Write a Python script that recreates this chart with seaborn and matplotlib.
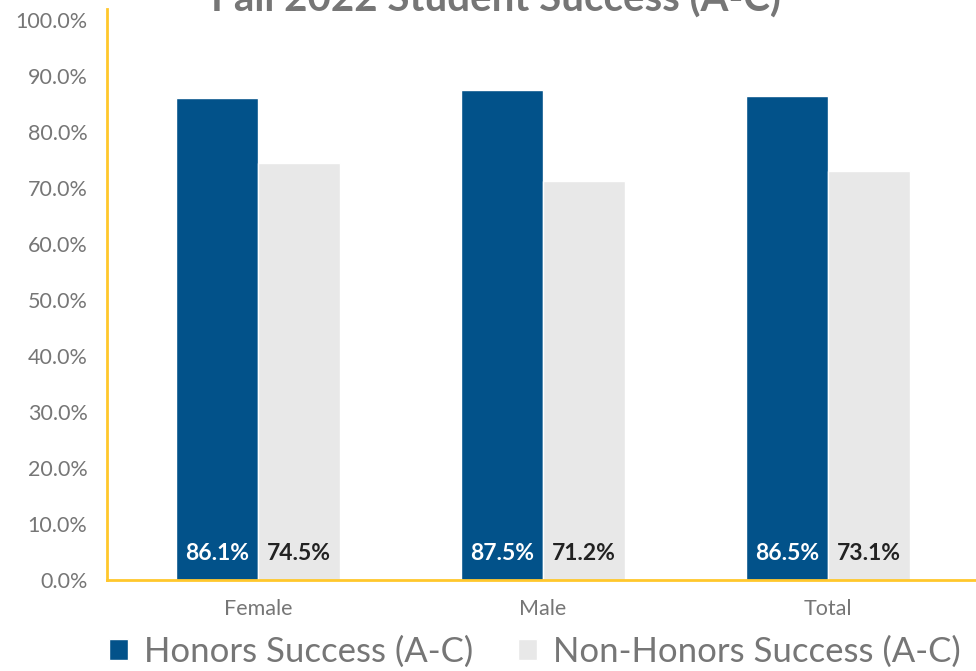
import pandas as pd
import numpy as np
from matplotlib import pyplot as plt
from matplotlib.patches import Patch
import seaborn as sns


categories = ['Female', 'Male', 'Total']
honors = [86.1, 87.5, 86.5]
non_honors = [74.5, 71.2, 73.1]
series_names = ['Honors Success (A-C)', 'Non-Honors Success (A-C)']
title = 'Fall 2022 Student Success (A-C)'

blue = '#02528A'
light = '#E8E8E8'
gold = '#FFC72C'
gray = '#767676'


def build_frame():
    """把两组数据整理成长表"""
    rows = []
    for cat, h, n in zip(categories, honors, non_honors):
        rows.append({'group': cat, 'series': series_names[0], 'value': h})
        rows.append({'group': cat, 'series': series_names[1], 'value': n})
    return pd.DataFrame(rows)


def draw_chart():
    sns.set_theme(style='white')
    plt.rcParams['font.family'] = ['Lato', 'DejaVu Sans']

    df = build_frame()
    fig = plt.figure(figsize=(9.76, 6.71), dpi=100)
    ax = fig.add_axes([0.1096, 0.1356, 0.8904, 0.851])

    sns.barplot(data=df, x='group', y='value', hue='series',
                palette=[blue, light], width=0.575, gap=0,
                saturation=1, legend=False, ax=ax)

    # 柱内标签
    for container, color in zip(ax.containers, ['white', '#222222']):
        labels = [f'{v:.1f}%' for v in container.datavalues]
        for bar, text in zip(container, labels):
            ax.text(bar.get_x() + bar.get_width() / 2, 4.8, text,
                    ha='center', va='center', fontsize=16.5,
                    fontweight='bold', color=color)

    ax.set_ylim(0, 102)
    ax.set_xlim(-0.53, 2.52)
    ax.set_yticks(np.arange(0, 101, 10))
    ax.set_yticklabels([f'{t:.1f}%' for t in np.arange(0, 101, 10)])
    ax.tick_params(axis='y', labelsize=15.5, labelcolor=gray, length=0, pad=14)
    ax.tick_params(axis='x', labelsize=15.5, labelcolor=gray, length=0, pad=14)
    ax.set_xlabel('')
    ax.set_ylabel('')

    for side in ['top', 'right']:
        ax.spines[side].set_visible(False)
    for side in ['left', 'bottom']:
        ax.spines[side].set_color(gold)
        ax.spines[side].set_linewidth(2)

    fig.text(0.508, 0.982, title, ha='center', va='baseline',
             fontsize=29, fontweight='bold', color=gray)

    handles = [Patch(facecolor=blue), Patch(facecolor=light)]
    fig.legend(handles, series_names, loc='center', bbox_to_anchor=(0.548, 0.029),
               ncol=2, frameon=False, fontsize=25, labelcolor=gray,
               handlelength=0.55, handleheight=0.55, handletextpad=0.45,
               columnspacing=1.3, borderaxespad=0)

    fig.savefig('out.png', dpi=100)


if __name__ == '__main__':
    draw_chart()
